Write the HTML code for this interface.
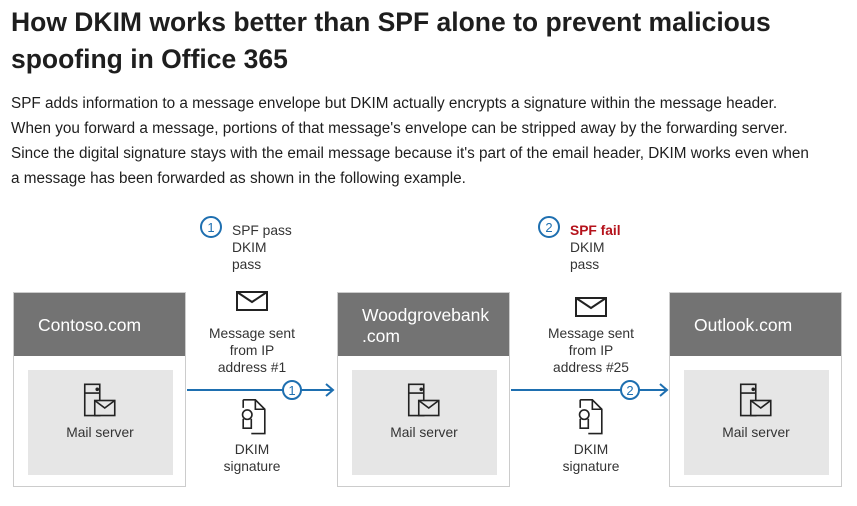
<!DOCTYPE html>
<html><head><style>
body{margin:0;width:857px;height:506px;background:#fff;font-family:"Liberation Sans",sans-serif;color:#1e1e1e;position:relative;overflow:hidden}
h1{position:absolute;left:11px;top:4px;margin:0;font-size:26.5px;line-height:37px;font-weight:bold;width:845px;white-space:nowrap}
p{position:absolute;left:11px;top:91px;margin:0;font-size:15.3px;line-height:25px;width:845px;white-space:nowrap}
.t{position:absolute;font-size:13.8px;color:#333;line-height:17px}
.c{text-align:center}
.box{position:absolute;top:292px;width:173px;height:195px;border:1px solid #ccc;box-sizing:border-box}
.hd{position:absolute;left:0;top:0;right:0;height:63px;background:#737373;color:#fff;font-size:17.5px}
.in{position:absolute;left:14px;top:77px;width:145px;height:105px;background:#e6e6e6}
</style></head><body>
<h1>How DKIM works better than SPF alone to prevent malicious<br>spoofing in Office 365</h1>
<p>SPF adds information to a message envelope but DKIM actually encrypts a signature within the message header.<br>When you forward a message, portions of that message's envelope can be stripped away by the forwarding server.<br>Since the digital signature stays with the email message because it's part of the email header, DKIM works even when<br>a message has been forwarded as shown in the following example.</p>

<div class="box" style="left:13px"><div class="hd"><span style="position:absolute;left:24px;top:22px">Contoso.com</span></div><div class="in"></div></div>
<div class="box" style="left:337px"><div class="hd"><span style="position:absolute;left:24px;top:12px;line-height:21px">Woodgrovebank<br>.com</span></div><div class="in"></div></div>
<div class="box" style="left:669px"><div class="hd"><span style="position:absolute;left:24px;top:22px">Outlook.com</span></div><div class="in"></div></div>

<svg width="857" height="506" style="position:absolute;left:0;top:0">
<defs>
<g id="srv" fill="none" stroke="#222" stroke-width="1.3" transform="scale(1.25)"><path d="M-13,-15 h12 v25 h-12 z M-13,-8 h12"/><rect x="-5" y="-2" width="16" height="12" fill="#e6e6e6"/><path d="M-5,-2 l8,6 l8,-6"/><circle cx="-3" cy="-11" r="0.8" fill="#222"/></g>
<g id="env" fill="none" stroke="#222" stroke-width="2"><rect x="-15" y="-9" width="30" height="18"/><path d="M-15,-9 l15,10 l15,-10"/></g>
<g id="doc" fill="none" stroke="#222" stroke-width="1.2" transform="scale(1.35)"><path d="M-8,-12 h9 l7,7 v18 h-10 M-8,-12 v6 M1,-12 v7 h7"/><circle cx="-5" cy="-1" r="3.5"/><path d="M-8,2 v7 h6 v-7"/></g>
</defs>
<use href="#srv" x="101" y="403"/>
<use href="#srv" x="425" y="403"/>
<use href="#srv" x="757" y="403"/>
<use href="#env" x="252" y="301"/>
<use href="#env" x="591" y="307"/>
<use href="#doc" x="254" y="416"/>
<use href="#doc" x="591" y="416"/>
<g stroke="#1e6fb0" stroke-width="2" fill="none">
<line x1="187" y1="390" x2="333" y2="390"/><path d="M326,384 l7,6 l-7,6"/>
<line x1="511" y1="390" x2="667" y2="390"/><path d="M660,384 l7,6 l-7,6"/>
<circle cx="292" cy="390" r="9" fill="#fff"/><circle cx="630" cy="390" r="9" fill="#fff"/>
<circle cx="211" cy="227" r="10" fill="#fff"/><circle cx="549" cy="227" r="10" fill="#fff"/>
</g>
<g fill="#1e6fb0" font-family="Liberation Sans" font-size="13" text-anchor="middle">
<text x="292" y="395">1</text><text x="630" y="395">2</text>
<text x="211" y="232">1</text><text x="549" y="232">2</text>
</g>
</svg>

<div class="t" style="left:100px;top:424px;width:0"><div style="position:absolute;left:-50px;width:100px;text-align:center">Mail server</div></div>
<div class="t" style="left:424px;top:424px;width:0"><div style="position:absolute;left:-50px;width:100px;text-align:center">Mail server</div></div>
<div class="t" style="left:756px;top:424px;width:0"><div style="position:absolute;left:-50px;width:100px;text-align:center">Mail server</div></div>

<div class="t" style="left:232px;top:222px">SPF pass<br>DKIM<br>pass</div>
<div class="t" style="left:570px;top:222px"><b style="color:#b5121b">SPF fail</b><br>DKIM<br>pass</div>

<div class="t c" style="left:192px;top:325px;width:120px">Message sent<br>from IP<br>address #1</div>
<div class="t c" style="left:531px;top:325px;width:120px">Message sent<br>from IP<br>address #25</div>
<div class="t c" style="left:202px;top:441px;width:100px">DKIM<br>signature</div>
<div class="t c" style="left:541px;top:441px;width:100px">DKIM<br>signature</div>
</body></html>
